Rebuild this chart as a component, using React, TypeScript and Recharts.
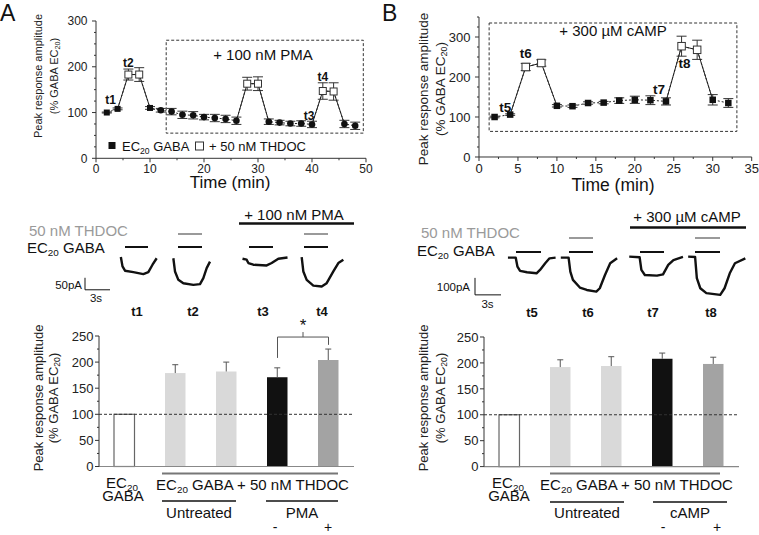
import React from "react";
import {
  Bar,
  BarChart,
  ComposedChart,
  ErrorBar,
  LabelList,
  Line,
  LineChart,
  ReferenceArea,
  ReferenceLine,
  XAxis,
  YAxis,
} from "recharts";

const FONT = "'Liberation Sans', Arial, Helvetica, sans-serif";

// ---- time course A: + 100 nM PMA ----
const timeA = [2, 4, 6, 8, 10, 12, 14, 16, 18, 20, 22, 24, 26, 28, 30, 32, 34, 36, 38, 40, 42, 44, 46, 48];
const ampA = [100, 108, 183, 183, 110, 105, 102, 95, 94, 90, 88, 86, 82, 163, 163, 80, 78, 76, 76, 74, 147, 146, 75, 71];
const semA = [1, 2, 12, 15, 3, 4, 7, 8, 8, 6, 8, 8, 8, 14, 15, 6, 5, 5, 6, 7, 18, 19, 8, 8];
const thdocA = [0, 0, 1, 1, 0, 0, 0, 0, 0, 0, 0, 0, 0, 1, 1, 0, 0, 0, 0, 0, 1, 1, 0, 0];
const tagsA = ["", "t1", "t2", "", "", "", "", "", "", "", "", "", "", "", "", "", "", "", "", "t3", "t4", "", "", ""];
const markerA = timeA.map((t) => (t >= 12 ? "circle" : "square"));

// ---- time course B: + 300 µM cAMP ----
const timeB = [2, 4, 6, 8, 10, 12, 14, 16, 18, 20, 22, 24, 26, 28, 30, 32];
const ampB = [100, 106, 225, 235, 128, 127, 135, 136, 141, 143, 142, 139, 277, 268, 143, 135];
const semB = [2, 2, 9, 8, 3, 3, 3, 3, 7, 9, 11, 9, 25, 24, 13, 11];
const thdocB = [0, 0, 1, 1, 0, 0, 0, 0, 0, 0, 0, 0, 1, 1, 0, 0];
const tagsB = ["", "t5", "t6", "", "", "", "", "", "", "", "", "t7", "t8", "", "", ""];
const markerB = timeB.map(() => "square");

// axis ticks
const xTicksTopA = [0, 5, 10, 15, 20, 25, 30, 35, 40, 45, 50];
const xLabelsTopA = [0, 10, 20, 30, 40, 50];
const yTicksTopA = [0, 25, 50, 75, 100, 125, 150, 175, 200, 225, 250, 275, 300];
const yLabelsTopA = [0, 100, 200, 300];
const xTicksTopB = [0, 2.5, 5, 7.5, 10, 12.5, 15, 17.5, 20, 22.5, 25, 27.5, 30, 32.5, 35];
const xLabelsTopB = [0, 5, 10, 15, 20, 25, 30, 35];
const yTicksTopB = [0, 25, 50, 75, 100, 125, 150, 175, 200, 225, 250, 275, 300, 325, 350];
const yLabelsTopB = [0, 100, 200, 300];
const yTicksBar = [0, 25, 50, 75, 100, 125, 150, 175, 200, 225, 250];
const yLabelsBar = [0, 50, 100, 150, 200, 250];

// ---- current traces (time in s, current in pA) ----
const trA1t = [4.3, 4.5, 4.8, 5.8, 7.0, 7.6, 8.1, 8.6];
const trA1i = [-1, -40, -58, -64, -72, -64, -33, -6];
const trA2t = [10.6, 10.8, 11.2, 11.8, 13.0, 13.8, 14.2, 14.6, 15.0];
const trA2i = [-6, -61, -96, -110, -117, -114, -89, -47, -20];
const trA3t = [18.9, 19.4, 19.6, 20.2, 21.8, 22.4, 23.2, 24.3];
const trA3i = [-8, -12, -26, -33, -36, -26, -8, -3];
const trA4t = [26.0, 26.2, 26.6, 27.4, 28.4, 29.0, 29.8, 30.4, 31.0];
const trA4i = [-1, -61, -96, -120, -124, -110, -61, -26, -12];

const trB5t = [3.8, 4.7, 4.9, 5.2, 6.0, 7.1, 7.5, 8.1, 8.6, 9.3];
const trB5i = [0, 0, -53, -78, -86, -92, -72, -33, -4, 0];
const trB6t = [9.9, 10.8, 11.0, 11.3, 12.1, 12.9, 14.0, 14.4, 15.0, 15.6, 16.4];
const trB6i = [0, 0, -82, -131, -176, -190, -200, -180, -102, -33, -4];
const trB7t = [17.8, 19.0, 19.2, 19.6, 21.0, 21.7, 22.3, 22.9, 24.0];
const trB7i = [6, 2, -72, -102, -106, -98, -43, -14, 4];
const trB8t = [24.6, 25.4, 25.6, 26.0, 26.7, 28.3, 28.8, 29.4, 30.0, 31.2];
const trB8i = [6, 4, -121, -180, -209, -219, -180, -92, -33, -4];

// scale bars: [bottom, top] in pA, 3 s wide
const scaleBarA = [-137.5, -87.5];
const scaleBarB = [-219, -119];

// ---- summary bars ----
const barNames = ["EC20 GABA", "Untreated 1", "Untreated 2", "minus", "plus"];
const barValsA = [100, 179, 182, 171, 204];
const barErrsA = [0, 16, 18, 18, 21];
const barValsB = [100, 192, 194, 208, 198];
const barErrsB = [0, 14, 18, 11, 13];
const bracketA = { top: 248, left: 208, right: 233 };

const barFills = ["#ffffff", "#d9d9d9", "#d9d9d9", "#111111", "#a3a3a3"];
const barStrokes = ["#666666", "none", "none", "none", "none"];

type Frame = { x0: number; x1: number; y0: number; y1: number; padL: number; padR: number; padT: number; padB: number };

function frameOf(f: Frame, hiddenAxes = false) {
  return {
    style: { position: "absolute" as const, left: f.x0 - f.padL, top: f.y0 - f.padT },
    width: f.x1 - f.x0 + f.padL + f.padR,
    height: f.y1 - f.y0 + f.padT + f.padB,
    margin: hiddenAxes
      ? { top: f.padT, right: f.padR, bottom: f.padB, left: f.padL }
      : { top: f.padT, right: f.padR, bottom: 0, left: 0 },
  };
}

function yTickFn(labels: number[], size: number, majorLen: number, minorLen: number, gap: number) {
  return (p: any) => {
    const v = p.payload.value;
    const major = labels.includes(v);
    return (
      <g>
        <line x1={p.x - (major ? majorLen : minorLen)} x2={p.x} y1={p.y} y2={p.y} stroke="#333" strokeWidth={1} />
        {major && (
          <text x={p.x - majorLen - gap} y={p.y + size * 0.36} textAnchor="end" fontSize={size} fontFamily={FONT} fill="#222">
            {v}
          </text>
        )}
      </g>
    );
  };
}

function xTickFn(labels: number[], size: number, majorLen: number, minorLen: number, gap: number) {
  return (p: any) => {
    const v = p.payload.value;
    const major = labels.includes(v);
    return (
      <g>
        <line x1={p.x} x2={p.x} y1={p.y} y2={p.y + (major ? majorLen : minorLen)} stroke="#333" strokeWidth={1} />
        {major && (
          <text x={p.x} y={p.y + majorLen + gap + size * 0.72} textAnchor="middle" fontSize={size} fontFamily={FONT} fill="#222">
            {v}
          </text>
        )}
      </g>
    );
  };
}

function buildRows(time: number[], amp: number[], sem: number[], thdoc: number[], tags: string[], marker: string[]) {
  return time.map((t, i) => {
    const nearOpen = thdoc[i] || thdoc[i - 1] || thdoc[i + 1];
    return { t, v: amp[i], e: sem[i], open: thdoc[i] === 1, tag: tags[i], marker: marker[i], solid: nearOpen ? amp[i] : null };
  });
}

const tagOffsets: Record<string, [number, number]> = {
  t1: [-7, -9],
  t2: [0, -12],
  t3: [-3, -9],
  t4: [0, -14],
  t5: [-5, -7],
  t6: [0, -14],
  t7: [-7, -12],
  t8: [3, 17],
};

function TimeCourse(props: any) {
  const { rows, frame, xDomain, yDomain, xTicks, xLabels, yTicks, yLabels, box, tickFont, tagFont, sq } = props;
  const f = frameOf(frame);
  const dot = (p: any) => {
    const { cx, cy, payload, index } = p;
    if (cx == null || cy == null) return <g key={index} />;
    if (payload.open)
      return <rect key={index} x={cx - sq / 2 - 0.5} y={cy - sq / 2 - 0.5} width={sq + 1} height={sq + 1} fill="#fff" stroke="#333" strokeWidth={1} />;
    if (payload.marker === "circle") return <circle key={index} cx={cx} cy={cy} r={sq / 2 + 0.3} fill="#111" />;
    return <rect key={index} x={cx - sq / 2} y={cy - sq / 2} width={sq} height={sq} fill="#111" />;
  };
  const tag = (p: any) => {
    if (!p.value) return null;
    const [dx, dy] = tagOffsets[p.value];
    return (
      <text x={p.x + dx} y={p.y + dy + tagFont * 0.36} textAnchor="middle" fontSize={tagFont} fontWeight="bold" fontFamily={FONT} fill="#111">
        {p.value}
      </text>
    );
  };
  return (
    <div style={f.style}>
      <ComposedChart width={f.width} height={f.height} data={rows} margin={f.margin}>
        <XAxis type="number" dataKey="t" domain={xDomain} ticks={xTicks} interval={0} height={frame.padB} tickSize={0} tickMargin={0} tickLine={false} axisLine={{ stroke: "#333" }} tick={xTickFn(xLabels, tickFont, 4, 2, 2.5)} allowDataOverflow />
        <YAxis type="number" domain={yDomain} ticks={yTicks} interval={0} width={frame.padL} tickSize={0} tickMargin={0} tickLine={false} axisLine={{ stroke: "#333" }} tick={yTickFn(yLabels, tickFont, 4, 2, 4.5)} allowDataOverflow />
        <ReferenceArea x1={box[0]} x2={box[1]} y1={box[2]} y2={box[3]} fill="none" fillOpacity={0} stroke="#333" strokeDasharray="3 2" ifOverflow="visible" />
        <Line dataKey="solid" stroke="#222" strokeWidth={1} dot={false} activeDot={false} isAnimationActive={false} />
        <Line dataKey="v" stroke="none" dot={false} activeDot={false} isAnimationActive={false}>
          <ErrorBar dataKey="e" width={5} stroke="#333" strokeWidth={1} direction="y" />
        </Line>
        <Line dataKey="v" stroke="#222" strokeWidth={1} strokeDasharray="2 2" dot={dot} activeDot={false} isAnimationActive={false}>
          <LabelList dataKey="tag" content={tag} />
        </Line>
      </ComposedChart>
    </div>
  );
}

function zipTrace(t: number[], i: number[]) {
  return t.map((tt, k) => ({ t: tt, i: i[k] }));
}

function Traces(props: any) {
  const { traces, frame, xDomain, yDomain, scale } = props;
  const f = frameOf(frame, true);
  return (
    <div style={f.style}>
      <LineChart width={f.width} height={f.height} margin={f.margin}>
        <XAxis type="number" dataKey="t" domain={xDomain} hide allowDataOverflow />
        <YAxis type="number" domain={yDomain} hide allowDataOverflow />
        {traces.map((d: any, k: number) => (
          <Line key={k} data={d} dataKey="i" type="linear" stroke="#111" strokeWidth={2.4} strokeLinejoin="round" dot={false} activeDot={false} isAnimationActive={false} />
        ))}
        <ReferenceLine segment={[{ x: 0, y: scale[0] }, { x: 0, y: scale[1] }]} stroke="#111" strokeWidth={1} ifOverflow="visible" />
        <ReferenceLine segment={[{ x: 0, y: scale[0] }, { x: 3, y: scale[0] }]} stroke="#111" strokeWidth={1} ifOverflow="visible" />
      </LineChart>
    </div>
  );
}

const starLabel = (p: any) => {
  const vb = p.viewBox || {};
  const cx = vb.x + (vb.width || 0) / 2;
  const y = vb.y;
  return (
    <g>
      <line x1={cx} x2={cx} y1={y} y2={y - 5} stroke="#555" strokeWidth={1} />
      <text x={cx} y={y - 6} textAnchor="middle" fontSize={17} fontFamily={FONT} fill="#111">
        *
      </text>
    </g>
  );
};

function BarsPanel(props: any) {
  const { values, errs, frame, bracket } = props;
  const f = frameOf(frame);
  const rows = barNames.map((name, i) => ({ name, value: values[i], err: errs[i] }));
  const shape = (p: any) => {
    const { x, y, width, height, payload } = p;
    const k = barNames.indexOf(payload.name);
    const perUnit = height / payload.value;
    const top = y - payload.err * perUnit;
    const cx = x + width / 2;
    return (
      <g>
        <rect x={x} y={y} width={width} height={height} fill={barFills[k]} stroke={barStrokes[k]} strokeWidth={1.2} />
        {payload.err > 0 && (
          <g stroke="#555" strokeWidth={1}>
            <line x1={cx} x2={cx} y1={y} y2={top} />
            <line x1={cx - 3} x2={cx + 3} y1={top} y2={top} />
          </g>
        )}
      </g>
    );
  };
  return (
    <div style={f.style}>
      <BarChart width={f.width} height={f.height} data={rows} margin={f.margin} barSize={20.5}>
        <XAxis dataKey="name" height={frame.padB} tick={false} tickLine={false} axisLine={{ stroke: "#888", strokeWidth: 1.2 }} />
        <YAxis type="number" domain={[0, 250]} ticks={yTicksBar} interval={0} width={frame.padL} tickSize={0} tickMargin={0} tickLine={false} axisLine={{ stroke: "#333" }} tick={yTickFn(yLabelsBar, 13, 4, 2, 1.5)} />
        <ReferenceLine y={100} stroke="#333" strokeDasharray="3 2" strokeWidth={1} />
        <Bar dataKey="value" shape={shape} isAnimationActive={false} />
        {bracket && (
          <ReferenceLine segment={[{ x: "minus", y: bracket.top }, { x: "plus", y: bracket.top }]} stroke="#555" strokeWidth={1} ifOverflow="visible" label={starLabel} />
        )}
        {bracket && (
          <ReferenceLine segment={[{ x: "minus", y: bracket.top }, { x: "minus", y: bracket.left }]} stroke="#555" strokeWidth={1} ifOverflow="visible" />
        )}
        {bracket && (
          <ReferenceLine segment={[{ x: "plus", y: bracket.top }, { x: "plus", y: bracket.right }]} stroke="#555" strokeWidth={1} ifOverflow="visible" />
        )}
      </BarChart>
    </div>
  );
}

const Sub20 = ({ size, rest }: { size: number; rest?: string }) => (
  <>
    <tspan fontSize={size * 0.66} dy={size * 0.2}>
      20
    </tspan>
    {rest ? <tspan dy={-size * 0.2}>{rest}</tspan> : null}
  </>
);

function YTitle({ x1, x2, cy, size }: { x1: number; x2: number; cy: number; size: number }) {
  return (
    <g fontFamily={FONT} fontSize={size} fill="#222" textAnchor="middle">
      <text transform={`translate(${x1},${cy}) rotate(-90)`} dy="0.35em">
        Peak response amplitude
      </text>
      <text transform={`translate(${x2},${cy}) rotate(-90)`} dy="0.35em">
        (% GABA EC<Sub20 size={size} rest=")" />
      </text>
    </g>
  );
}

function Overlay() {
  const grey = "#9a9a9a";
  return (
    <svg width={759} height={535} style={{ position: "absolute", left: 0, top: 0, pointerEvents: "none" }}>
      <g fontFamily={FONT} fill="#111">
        <text x={0} y={21} fontSize={23}>A</text>
        <text x={382} y={21} fontSize={23}>B</text>

        {/* top A */}
        <YTitle x1={38} x2={54} cy={76} size={11} />
        <text x={230} y={188} fontSize={17} textAnchor="middle">Time (min)</text>
        <text x={263} y={60} fontSize={15} textAnchor="middle">+ 100 nM PMA</text>
        <rect x={108.5} y={142} width={7} height={7} fill="#111" />
        <text x={122} y={151} fontSize={13}>
          EC<Sub20 size={13} rest=" GABA" />
        </text>
        <rect x={195.5} y={142} width={8} height={8} fill="#fff" stroke="#333" />
        <text x={209} y={151} fontSize={13}>+ 50 nM THDOC</text>

        {/* top B */}
        <YTitle x1={423} x2={440} cy={89} size={13.5} />
        <text x={613} y={191} fontSize={17.5} textAnchor="middle">Time (min)</text>
        <text x={613} y={36} fontSize={15} textAnchor="middle">+ 300 µM cAMP</text>

        {/* traces A */}
        <text x={294} y={220} fontSize={15} textAnchor="middle">+ 100 nM PMA</text>
        <line x1={239} x2={354} y1={223.5} y2={223.5} stroke="#111" strokeWidth={2.5} />
        <text x={29} y={235.5} fontSize={15} fill={grey}>50 nM THDOC</text>
        <text x={27} y={253} fontSize={15}>
          EC<Sub20 size={15} rest=" GABA" />
        </text>
        <g stroke={grey} strokeWidth={2}>
          <line x1={178} x2={202} y1={234} y2={234} />
          <line x1={304} x2={328} y1={234} y2={234} />
        </g>
        <g stroke="#111" strokeWidth={2}>
          <line x1={125} x2={148} y1={247} y2={247} />
          <line x1={178} x2={202} y1={247} y2={247} />
          <line x1={249} x2={273} y1={247} y2={247} />
          <line x1={304} x2={328} y1={247} y2={247} />
        </g>
        <text x={82} y={289} fontSize={11.5} textAnchor="end">50pA</text>
        <text x={96} y={302} fontSize={11.5} textAnchor="middle">3s</text>
        <g fontSize={13} fontWeight="bold" textAnchor="middle">
          <text x={137} y={316}>t1</text>
          <text x={193} y={316}>t2</text>
          <text x={263} y={316}>t3</text>
          <text x={322} y={316}>t4</text>
        </g>

        {/* traces B */}
        <text x={687} y={222} fontSize={15} textAnchor="middle">+ 300 µM cAMP</text>
        <line x1={630} x2={746} y1={227.5} y2={227.5} stroke="#111" strokeWidth={2.5} />
        <text x={421} y={238} fontSize={15} fill={grey}>50 nM THDOC</text>
        <text x={417} y={256} fontSize={15}>
          EC<Sub20 size={15} rest=" GABA" />
        </text>
        <g stroke={grey} strokeWidth={2}>
          <line x1={569} x2={593} y1={238} y2={238} />
          <line x1={695} x2={720} y1={238} y2={238} />
        </g>
        <g stroke="#111" strokeWidth={2}>
          <line x1={516} x2={541} y1={252} y2={252} />
          <line x1={569} x2={593} y1={252} y2={252} />
          <line x1={640} x2={664} y1={252} y2={252} />
          <line x1={695} x2={720} y1={252} y2={252} />
        </g>
        <text x={470} y={291} fontSize={11.5} textAnchor="end">100pA</text>
        <text x={487.5} y={308} fontSize={11.5} textAnchor="middle">3s</text>
        <g fontSize={13} fontWeight="bold" textAnchor="middle">
          <text x={532} y={317}>t5</text>
          <text x={588} y={317}>t6</text>
          <text x={653} y={317}>t7</text>
          <text x={711} y={317}>t8</text>
        </g>

        {/* bars A */}
        <YTitle x1={38} x2={53} cy={398} size={13} />
        <g fontSize={15} textAnchor="middle">
          <text x={122} y={488}>
            EC<Sub20 size={15} />
          </text>
          <text x={123} y={501}>GABA</text>
          <text x={252.5} y={490}>
            EC<Sub20 size={15} rest=" GABA + 50 nM THDOC" />
          </text>
          <text x={199} y={518}>Untreated</text>
          <text x={302} y={518}>PMA</text>
        </g>
        <g fontSize={14} textAnchor="middle">
          <text x={275} y={531.5}>-</text>
          <text x={328} y={531.5}>+</text>
        </g>
        <line x1={162} x2={338} y1={473.5} y2={473.5} stroke="#777" strokeWidth={2} />
        <g stroke="#111" strokeWidth={1.5}>
          <line x1={162} x2={236} y1={501} y2={501} />
          <line x1={266} x2={338} y1={501} y2={501} />
        </g>

        {/* bars B */}
        <YTitle x1={423} x2={440} cy={398} size={13} />
        <g fontSize={15} textAnchor="middle">
          <text x={508} y={488}>
            EC<Sub20 size={15} />
          </text>
          <text x={509} y={501}>GABA</text>
          <text x={636.5} y={490}>
            EC<Sub20 size={15} rest=" GABA + 50 nM THDOC" />
          </text>
          <text x={587} y={518}>Untreated</text>
          <text x={690} y={518}>cAMP</text>
        </g>
        <g fontSize={14} textAnchor="middle">
          <text x={663} y={531.5}>-</text>
          <text x={717} y={531.5}>+</text>
        </g>
        <line x1={550} x2={720} y1={473.5} y2={473.5} stroke="#777" strokeWidth={2} />
        <g stroke="#111" strokeWidth={1.5}>
          <line x1={550} x2={624} y1={502} y2={502} />
          <line x1={653} x2={727} y1={502} y2={502} />
        </g>
      </g>
    </svg>
  );
}

const rowsA = buildRows(timeA, ampA, semA, thdocA, tagsA, markerA);
const rowsB = buildRows(timeB, ampB, semB, thdocB, tagsB, markerB);

export default function App() {
  return (
    <div style={{ position: "absolute", left: 0, top: 0, width: 759, height: 535, background: "#fff", overflow: "hidden" }}>
      <TimeCourse
        rows={rowsA}
        frame={{ x0: 96, x1: 366, y0: 20.7, y1: 158, padL: 50, padR: 14, padT: 10, padB: 26 }}
        xDomain={[0, 50]}
        yDomain={[0, 300]}
        xTicks={xTicksTopA}
        xLabels={xLabelsTopA}
        yTicks={yTicksTopA}
        yLabels={yLabelsTopA}
        box={[13, 49.5, 55, 258]}
        tickFont={12}
        tagFont={12}
        sq={6}
      />
      <TimeCourse
        rows={rowsB}
        frame={{ x0: 479, x1: 751.7, y0: 16.7, y1: 156.7, padL: 50, padR: 7, padT: 6, padB: 26 }}
        xDomain={[0, 35]}
        yDomain={[0, 350]}
        xTicks={xTicksTopB}
        xLabels={xLabelsTopB}
        yTicks={yTicksTopB}
        yLabels={yLabelsTopB}
        box={[1.3, 33.1, 64, 335]}
        tickFont={13}
        tagFont={13.5}
        sq={6.5}
      />
      <Traces
        traces={[zipTrace(trA1t, trA1i), zipTrace(trA2t, trA2i), zipTrace(trA3t, trA3i), zipTrace(trA4t, trA4i)]}
        frame={{ x0: 85, x1: 351.7, y0: 252.2, y1: 291.8, padL: 3, padR: 3, padT: 3, padB: 3 }}
        xDomain={[0, 32]}
        yDomain={[-145, 20]}
        scale={scaleBarA}
      />
      <Traces
        traces={[zipTrace(trB5t, trB5i), zipTrace(trB6t, trB6i), zipTrace(trB7t, trB7i), zipTrace(trB8t, trB8i)]}
        frame={{ x0: 475, x1: 752.3, y0: 250.05, y1: 297.65, padL: 3, padR: 3, padT: 3, padB: 3 }}
        xDomain={[0, 32]}
        yDomain={[-235, 45]}
        scale={scaleBarB}
      />
      <BarsPanel
        values={barValsA}
        errs={barErrsA}
        frame={{ x0: 99, x1: 354, y0: 336.2, y1: 466.7, padL: 50, padR: 6, padT: 26, padB: 10 }}
        bracket={bracketA}
      />
      <BarsPanel
        values={barValsB}
        errs={barErrsB}
        frame={{ x0: 484, x1: 739, y0: 337.4, y1: 467, padL: 50, padR: 6, padT: 10, padB: 10 }}
      />
      <Overlay />
    </div>
  );
}
